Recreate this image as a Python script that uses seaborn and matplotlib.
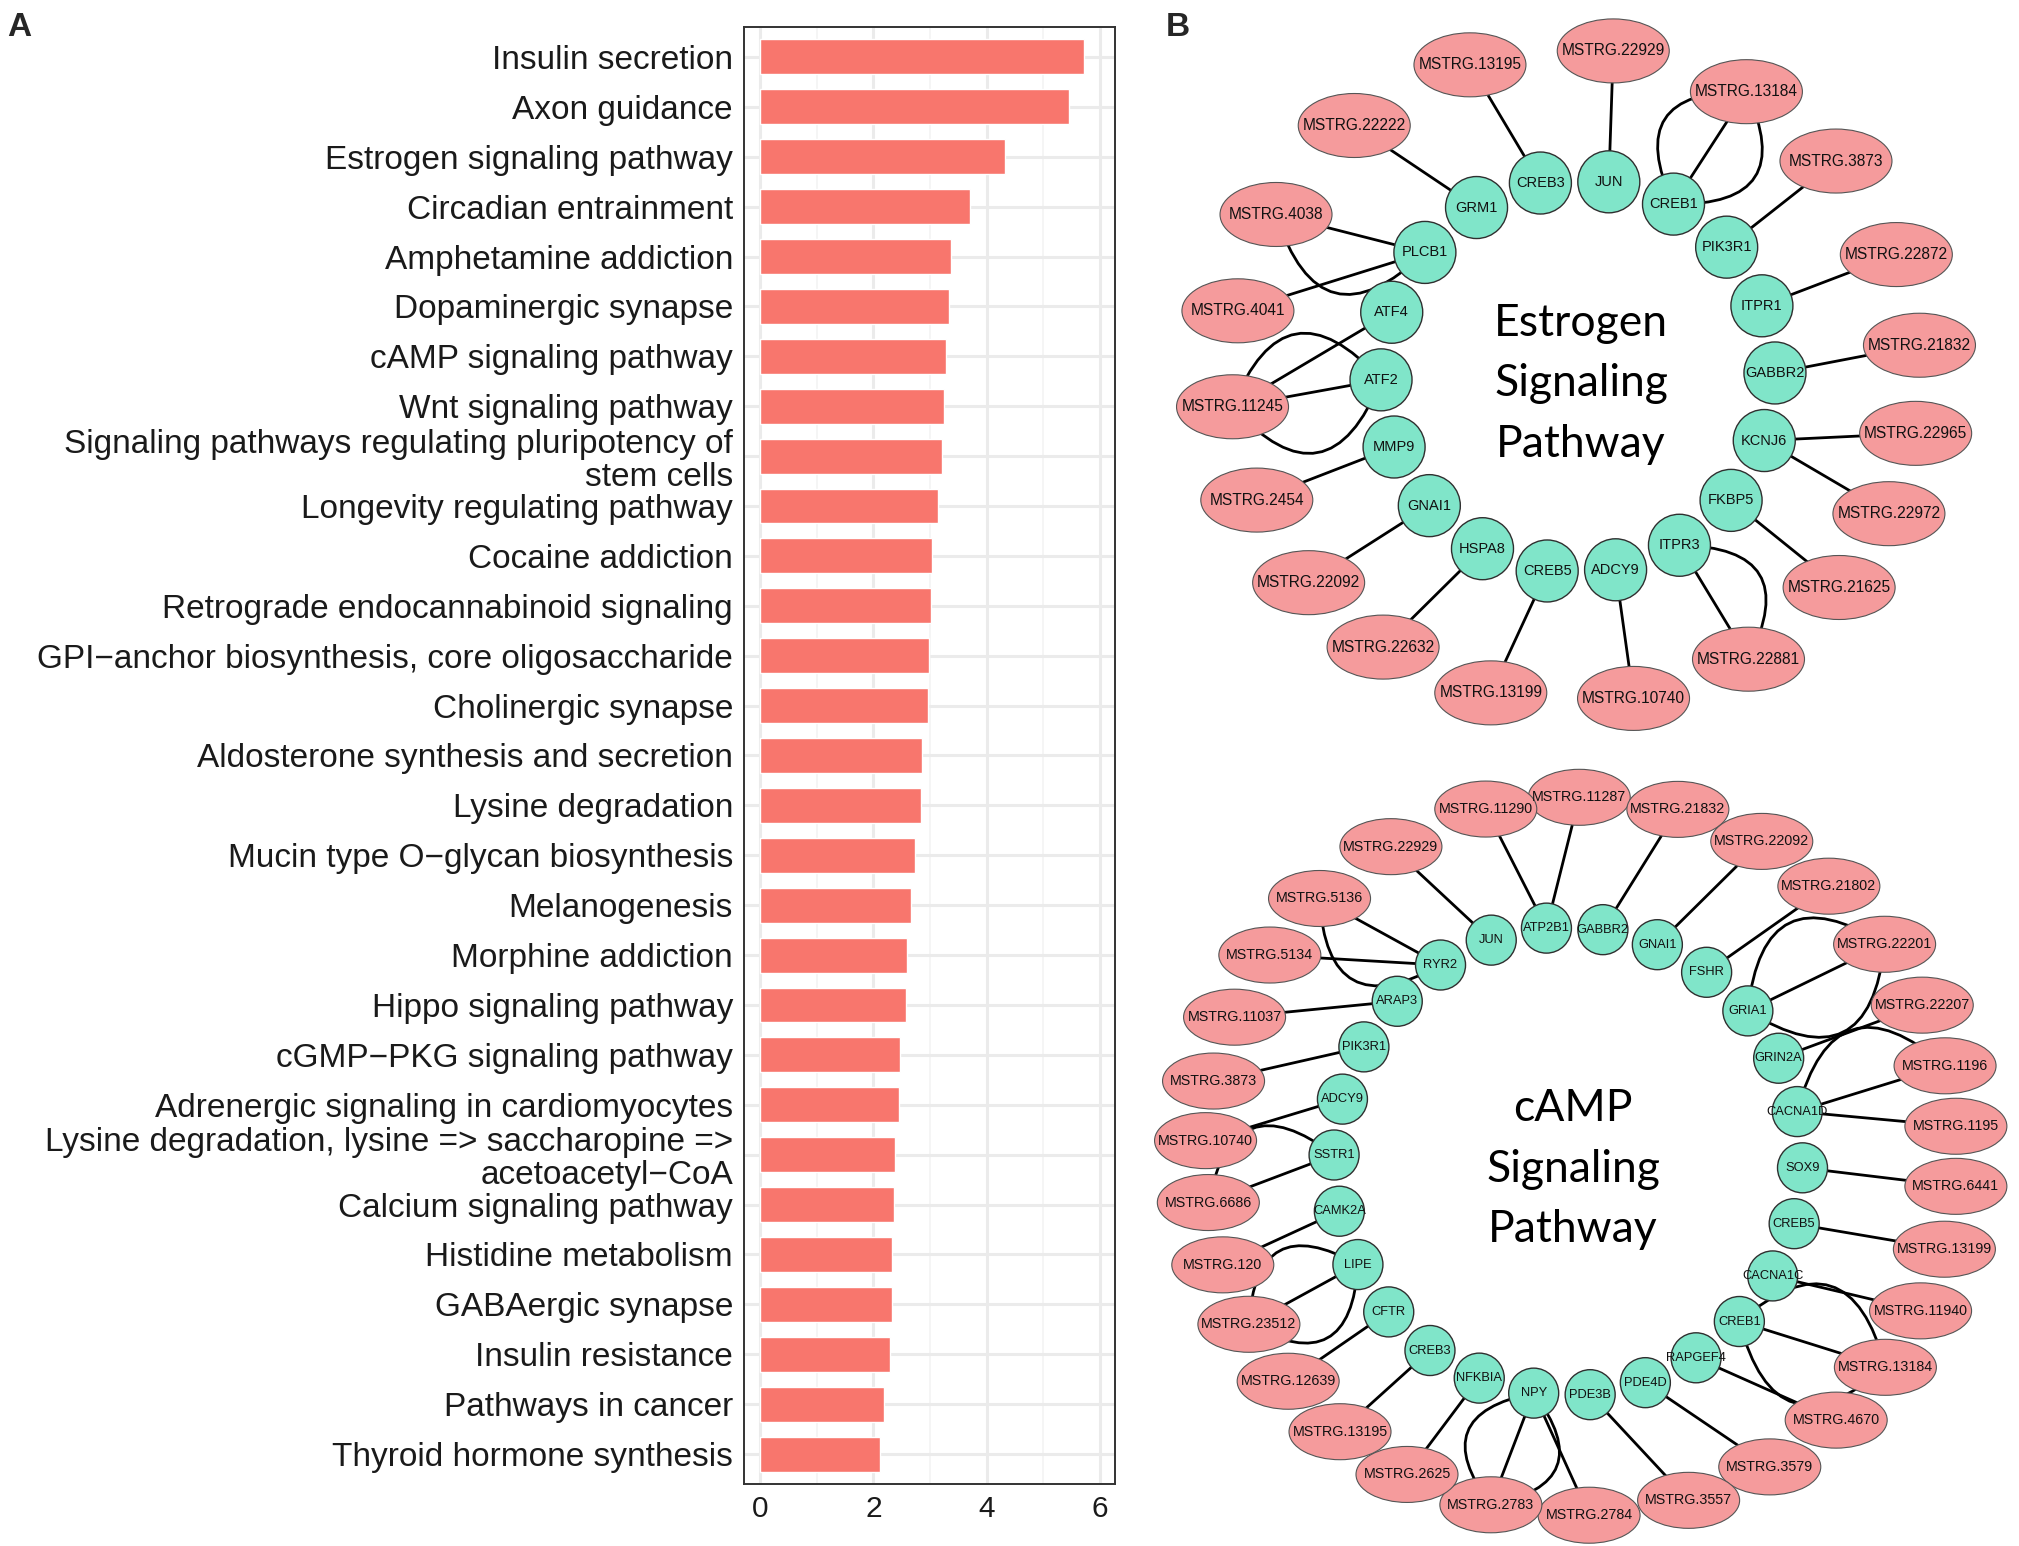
import numpy as np
import pandas as pd
import matplotlib
matplotlib.use("Agg")
import matplotlib.pyplot as plt
import seaborn as sns
from matplotlib.patches import Ellipse, Circle, PathPatch
from matplotlib.path import Path

# ---------------- Panel A data ----------------
pathways = [
    "Insulin secretion", "Axon guidance", "Estrogen signaling pathway",
    "Circadian entrainment", "Amphetamine addiction", "Dopaminergic synapse",
    "cAMP signaling pathway", "Wnt signaling pathway",
    "Signaling pathways regulating pluripotency of\nstem cells",
    "Longevity regulating pathway", "Cocaine addiction",
    "Retrograde endocannabinoid signaling",
    "GPI\u2212anchor biosynthesis, core oligosaccharide",
    "Cholinergic synapse", "Aldosterone synthesis and secretion",
    "Lysine degradation", "Mucin type O\u2212glycan biosynthesis",
    "Melanogenesis", "Morphine addiction", "Hippo signaling pathway",
    "cGMP\u2212PKG signaling pathway", "Adrenergic signaling in cardiomyocytes",
    "Lysine degradation, lysine => saccharopine =>\nacetoacetyl\u2212CoA",
    "Calcium signaling pathway", "Histidine metabolism", "GABAergic synapse",
    "Insulin resistance", "Pathways in cancer", "Thyroid hormone synthesis",
]
enrichment = [5.72, 5.45, 4.33, 3.70, 3.38, 3.33, 3.28, 3.25, 3.21, 3.14,
              3.03, 3.02, 2.99, 2.96, 2.86, 2.85, 2.74, 2.66, 2.59, 2.58,
              2.48, 2.45, 2.38, 2.36, 2.33, 2.33, 2.30, 2.18, 2.11]
x_ticks = [0, 2, 4, 6]

# ---------------- Panel B data: Estrogen network ----------------
estrogen_genes = ["JUN", "CREB1", "PIK3R1", "ITPR1", "GABBR2", "KCNJ6", "FKBP5",
                  "ITPR3", "ADCY9", "CREB5", "HSPA8", "GNAI1", "MMP9", "ATF2",
                  "ATF4", "PLCB1", "GRM1", "CREB3"]
estrogen_lncs = ["MSTRG.22929", "MSTRG.13184", "MSTRG.3873", "MSTRG.22872",
                 "MSTRG.21832", "MSTRG.22965", "MSTRG.22972", "MSTRG.21625",
                 "MSTRG.22881", "MSTRG.10740", "MSTRG.13199", "MSTRG.22632",
                 "MSTRG.22092", "MSTRG.2454", "MSTRG.11245", "MSTRG.4041",
                 "MSTRG.4038", "MSTRG.22222", "MSTRG.13195"]
estrogen_edges = [  # (gene, lncRNA, number of links)
    ("JUN", "MSTRG.22929", 1), ("CREB1", "MSTRG.13184", 3),
    ("PIK3R1", "MSTRG.3873", 1), ("ITPR1", "MSTRG.22872", 1),
    ("GABBR2", "MSTRG.21832", 1), ("KCNJ6", "MSTRG.22965", 1),
    ("KCNJ6", "MSTRG.22972", 1), ("FKBP5", "MSTRG.21625", 1),
    ("ITPR3", "MSTRG.22881", 2), ("ADCY9", "MSTRG.10740", 1),
    ("CREB5", "MSTRG.13199", 1), ("HSPA8", "MSTRG.22632", 1),
    ("GNAI1", "MSTRG.22092", 1), ("MMP9", "MSTRG.2454", 1),
    ("ATF2", "MSTRG.11245", 3), ("ATF4", "MSTRG.11245", 1),
    ("PLCB1", "MSTRG.4041", 1), ("PLCB1", "MSTRG.4038", 2),
    ("GRM1", "MSTRG.22222", 1), ("CREB3", "MSTRG.13195", 1),
]

# ---------------- Panel B data: cAMP network ----------------
camp_genes = ["JUN", "ATP2B1", "GABBR2", "GNAI1", "FSHR", "GRIA1", "GRIN2A",
              "CACNA1D", "SOX9", "CREB5", "CACNA1C", "CREB1", "RAPGEF4", "PDE4D",
              "PDE3B", "NPY", "NFKBIA", "CREB3", "CFTR", "LIPE", "CAMK2A",
              "SSTR1", "ADCY9", "PIK3R1", "ARAP3", "RYR2"]
camp_lncs = ["MSTRG.11287", "MSTRG.21832", "MSTRG.22092", "MSTRG.21802",
             "MSTRG.22201", "MSTRG.22207", "MSTRG.1196", "MSTRG.1195",
             "MSTRG.6441", "MSTRG.13199", "MSTRG.11940", "MSTRG.13184",
             "MSTRG.4670", "MSTRG.3579", "MSTRG.3557", "MSTRG.2784",
             "MSTRG.2783", "MSTRG.2625", "MSTRG.13195", "MSTRG.12639",
             "MSTRG.23512", "MSTRG.120", "MSTRG.6686", "MSTRG.10740",
             "MSTRG.3873", "MSTRG.11037", "MSTRG.5134", "MSTRG.5136",
             "MSTRG.22929", "MSTRG.11290"]
camp_edges = [
    ("JUN", "MSTRG.22929", 1), ("ATP2B1", "MSTRG.11290", 1),
    ("ATP2B1", "MSTRG.11287", 1), ("GABBR2", "MSTRG.21832", 1),
    ("GNAI1", "MSTRG.22092", 1), ("FSHR", "MSTRG.21802", 1),
    ("GRIA1", "MSTRG.22201", 3), ("GRIN2A", "MSTRG.22207", 1),
    ("CACNA1D", "MSTRG.1196", 2), ("CACNA1D", "MSTRG.1195", 1),
    ("SOX9", "MSTRG.6441", 1), ("CREB5", "MSTRG.13199", 1),
    ("CACNA1C", "MSTRG.11940", 1), ("CREB1", "MSTRG.13184", 3),
    ("RAPGEF4", "MSTRG.4670", 1), ("PDE4D", "MSTRG.3579", 1),
    ("PDE3B", "MSTRG.3557", 1), ("NPY", "MSTRG.2783", 3),
    ("NPY", "MSTRG.2784", 1), ("NFKBIA", "MSTRG.2625", 1),
    ("CREB3", "MSTRG.13195", 1), ("CFTR", "MSTRG.12639", 1),
    ("LIPE", "MSTRG.23512", 3), ("CAMK2A", "MSTRG.120", 1),
    ("SSTR1", "MSTRG.6686", 2), ("ADCY9", "MSTRG.10740", 1),
    ("PIK3R1", "MSTRG.3873", 1), ("ARAP3", "MSTRG.11037", 1),
    ("RYR2", "MSTRG.5134", 1), ("RYR2", "MSTRG.5136", 2),
]

# ---------------- layout (positions / styles) ----------------
estrogen_lnc_angles = [83.8, 60.4, 41.1, 21.8, 5.4, -10.1, -24.9, -40.3, -60.0,
                       -80.4, -104.3, -124.0, -140.8, -157.7, -174.6, -191.5,
                       -209.6, -230.0, -252.1]
camp_lnc_angles = [90.3, 75.1, 61.3, 48.8, 36.2, 24.9, 14.6, 4.8, -4.8, -15.0,
                   -25.5, -36.0, -47.3, -59.9, -73.4, -88.8, -103.9, -117.6,
                   -129.9, -141.2, -152.1, -162.4, -172.6, -182.5, -192.1,
                   -202.8, -214.1, -225.9, -239.6, -255.3]
arc_side_estrogen = {("ITPR3", "MSTRG.22881"): -1, ("PLCB1", "MSTRG.4038"): -1}
arc_side_camp = {("CACNA1D", "MSTRG.1196"): -1, ("SSTR1", "MSTRG.6686"): 1,
                 ("RYR2", "MSTRG.5136"): -1}

GREEN = "#80E5C9"
PINK = "#F59B9C"
BAR = "#F8766D"

sns.set_style("white")
plt.rcParams["font.family"] = ["Liberation Sans", "DejaVu Sans"]

W, H = 2019, 1546
fig = plt.figure(figsize=(W / 100, H / 100), dpi=100)

# ---------------- Panel A ----------------
ax = fig.add_axes([744 / W, 1 - 1484 / H, (1115 - 744) / W, (1484 - 27) / H])
df = pd.DataFrame({"pathway": pathways, "score": enrichment})
sns.barplot(data=df, x="score", y="pathway", orient="h", color=BAR,
            saturation=1, width=0.7, ax=ax, zorder=3)
ax.set_axisbelow(True)
n = len(pathways)
ax.set_xlim(-0.285, 6.27)
ax.set_ylim(n - 1 + 0.6, -0.6)
ax.set_xticks(x_ticks)
ax.set_xticks([1, 3, 5], minor=True)
ax.grid(which="major", axis="both", color="#EBEBEB", lw=2.2, zorder=0)
ax.grid(which="minor", axis="x", color="#F3F3F3", lw=1.2, zorder=0)
for s in ax.spines.values():
    s.set_visible(True)
    s.set_color("#333333")
    s.set_linewidth(1.4)
ax.tick_params(axis="both", which="major", direction="out", length=5,
               width=1.4, color="#333333")
ax.tick_params(axis="both", which="minor", length=0)
ax.tick_params(axis="x", labelsize=21.5, pad=3, labelcolor="#1a1a1a")
ax.tick_params(axis="y", labelsize=24, pad=3, labelcolor="#1a1a1a")
for t in ax.get_yticklabels():
    t.set_linespacing(1.08)
ax.set_xlabel("")
ax.set_ylabel("")

fig.text(19 / W, 1 - 27 / H, "A", fontsize=24, weight="bold",
         ha="center", va="center")
fig.text(1178 / W, 1 - 27 / H, "B", fontsize=24, weight="bold",
         ha="center", va="center")

# ---------------- Panel B ----------------
axn = fig.add_axes([1130 / W, 0, 1 - 1130 / W, 1])
axn.set_xlim(1130, W)
axn.set_ylim(H, 0)
axn.axis("off")


def draw_network(genes, gene_start, gcenter, grad, lncs, lnc_angles, lcenter,
                 rx, ry, edges, arc_side, node_r, ell_w, ell_h, gfs, lfs,
                 title, tpos):
    step = 360.0 / len(genes)
    gpos = {}
    for i, g in enumerate(genes):
        a = np.deg2rad(gene_start - step * i)
        gpos[g] = np.array([gcenter[0] + grad * np.cos(a),
                            gcenter[1] - grad * np.sin(a)])
    lpos = {}
    for name, ang in zip(lncs, lnc_angles):
        a = np.deg2rad(ang)
        lpos[name] = np.array([lcenter[0] + rx * np.cos(a),
                               lcenter[1] - ry * np.sin(a)])
    for g, l, k in edges:
        p0, p1 = gpos[g], lpos[l]
        d = p1 - p0
        L = np.hypot(*d)
        nvec = np.array([-d[1], d[0]]) / L
        if k == 1:
            offs = [0.0]
        elif k == 2:
            offs = [0.0, 0.8 * arc_side.get((g, l), 1)]
        else:
            offs = [0.0, 0.8, -0.8]
        for o in offs:
            if o == 0:
                axn.plot([p0[0], p1[0]], [p0[1], p1[1]], color="black",
                         lw=2.0, zorder=1, solid_capstyle="round")
            else:
                ctrl = (p0 + p1) / 2 + o * L * nvec
                path = Path([p0, ctrl, p1], [Path.MOVETO, Path.CURVE3, Path.CURVE3])
                axn.add_patch(PathPatch(path, fc="none", ec="black", lw=2.0,
                                        zorder=1))
    for g, p in gpos.items():
        axn.add_patch(Circle(p, node_r, fc=GREEN, ec="#2f2f2f", lw=1.0, zorder=2))
        axn.text(p[0], p[1], g, fontsize=gfs, ha="center", va="center",
                 color="#111111", zorder=3)
    for l, p in lpos.items():
        axn.add_patch(Ellipse(p, ell_w, ell_h, fc=PINK, ec="#555555", lw=0.8,
                              zorder=2))
        axn.text(p[0], p[1], l, fontsize=lfs, ha="center", va="center",
                 color="#111111", zorder=3)
    axn.text(tpos[0], tpos[1], title, fontsize=32, family=["Lato", "DejaVu Sans"],
             ha="center", va="center", linespacing=1.58, color="black", zorder=3)


draw_network(estrogen_genes, 81.0, (1578, 376.4), 197, estrogen_lncs,
             estrogen_lnc_angles, (1576, 376), 345, 327, estrogen_edges,
             arc_side_estrogen, 31, 112, 64, 10.5, 11.2,
             "Estrogen\nSignaling\nPathway", (1581, 384))
draw_network(camp_genes, 109.2, (1568.3, 1161.4), 234.3, camp_lncs,
             camp_lnc_angles, (1581.2, 1156.3), 376, 359, camp_edges,
             arc_side_camp, 25, 102, 56, 9.3, 10.3,
             "cAMP\nSignaling\nPathway", (1573, 1169))

fig.savefig("out.png", dpi=100)
